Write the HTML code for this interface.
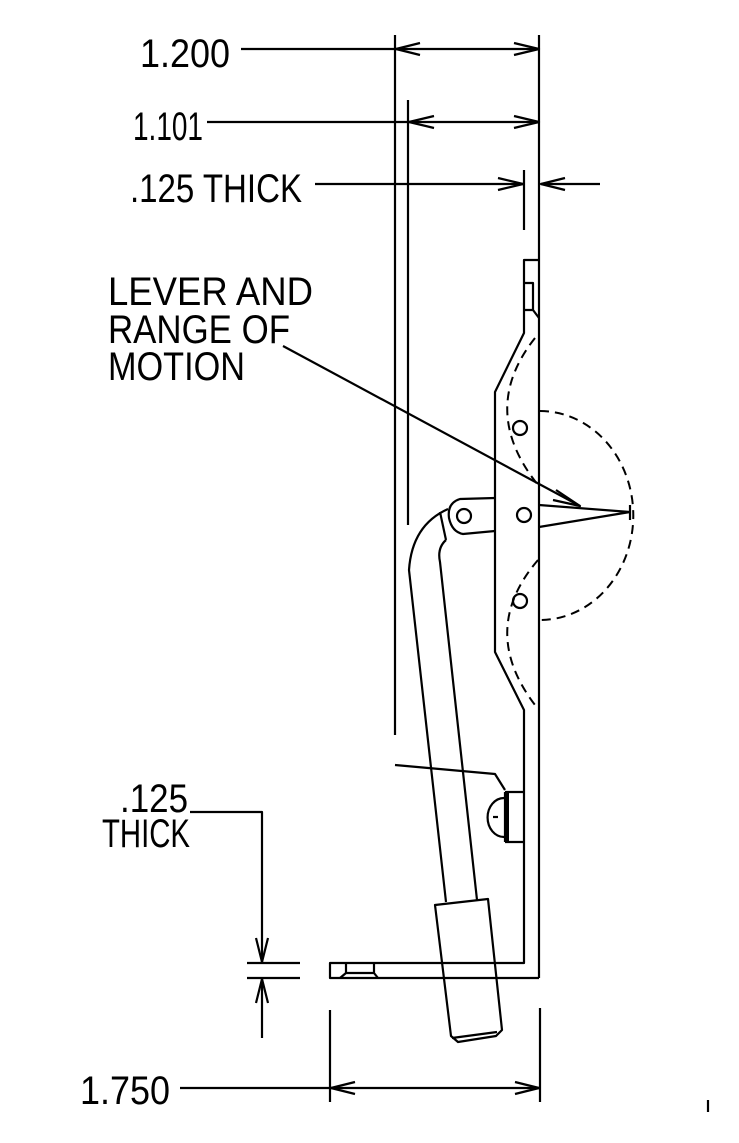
<!DOCTYPE html>
<html><head><style>html,body{margin:0;padding:0;background:#fff}svg{display:block}</style></head>
<body>
<svg width="739" height="1143" viewBox="0 0 739 1143" xmlns="http://www.w3.org/2000/svg">
<g font-family="Liberation Sans, sans-serif" font-size="40" fill="#000" stroke="none">
<text x="140" y="67" textLength="90" lengthAdjust="spacingAndGlyphs">1.200</text>
<text x="133" y="140" textLength="70" lengthAdjust="spacingAndGlyphs">1.101</text>
<text x="130" y="202" textLength="172" lengthAdjust="spacingAndGlyphs">.125 THICK</text>
<text x="108" y="305" textLength="205" lengthAdjust="spacingAndGlyphs">LEVER AND</text>
<text x="108" y="343" textLength="182" lengthAdjust="spacingAndGlyphs">RANGE OF</text>
<text x="108" y="380" textLength="137" lengthAdjust="spacingAndGlyphs">MOTION</text>
<text x="120" y="812" textLength="68" lengthAdjust="spacingAndGlyphs">.125</text>
<text x="102" y="847" textLength="88" lengthAdjust="spacingAndGlyphs">THICK</text>
<text x="80" y="1104" textLength="90" lengthAdjust="spacingAndGlyphs">1.750</text>
</g>
<g fill="none" stroke="#000" stroke-width="2.2" stroke-linejoin="round">
<line x1="241" y1="49" x2="539" y2="49"/>
<path d="M420,43 L396,49 L420,55 M514,43 L539,49 L514,55"/>
<line x1="395" y1="35" x2="395" y2="735"/>
<line x1="539" y1="35" x2="539" y2="978"/>
<line x1="207" y1="122" x2="539" y2="122"/>
<path d="M434,116 L409,122 L434,128 M514,116 L539,122 L514,128"/>
<line x1="408" y1="100" x2="408" y2="525"/>
<line x1="315" y1="184" x2="524" y2="184"/>
<path d="M498,178 L523,184 L498,190"/>
<line x1="524" y1="170" x2="524" y2="230"/>
<line x1="541" y1="184" x2="600" y2="184"/>
<path d="M565,178 L541,184 L565,190"/>
<path d="M539,978 L330,978 L330,963 L524,963 L524,710 L495,652 L495,392 L524,333 L524,260 L539,260"/>
<path d="M524,283 L533,283 L533,310 L524,310 M533,310 L539,318"/>
<path d="M346,963 L346,973 L374,973 L374,963 M340,978 L346,973 M374,973 L378,978"/>
<circle cx="520" cy="428" r="7"/>
<circle cx="524" cy="515" r="7"/>
<circle cx="520" cy="601" r="7"/>
<circle cx="464" cy="516" r="7"/>
<path d="M495,498 L460,499 Q447,503 449,518 Q452,532 463,534 L495,531"/>
<path d="M539,505 L630,512 L539,527"/>
<line x1="630" y1="505" x2="630" y2="520"/>
<line x1="283" y1="346" x2="580" y2="506"/>
<path d="M556,490 L580,506 L553,500"/>
<!-- handle -->
<path d="M448,509 Q412,525 409,570 L446,902"/>
<path d="M446,540 Q437,548 440,562 L477,900"/>
<line x1="440" y1="512" x2="446" y2="540"/>
<path d="M435,905 L488,899 L502,1030 L496,1036 L458,1042 L451,1036 Z"/>
<path d="M497,1032 L452,1038"/>
<!-- latch -->
<path d="M395,765 L495,774 L505,790"/>
<path d="M505,792 L524,792 M505,842 L524,842 M505,792 L505,842"/>
<line x1="507.5" y1="792" x2="507.5" y2="842" stroke-width="3"/>
<path d="M504,798 A16,19 0 0 0 504,837"/>
<line x1="493" y1="817" x2="498" y2="817"/>
<path d="M190,812 L262,812 L262,963"/>
<path d="M256,938 L262,962 L268,938"/>
<line x1="262" y1="979" x2="262" y2="1038"/>
<path d="M256,1003 L262,979 L268,1003"/>
<line x1="247" y1="963" x2="300" y2="963"/>
<line x1="247" y1="978" x2="300" y2="978"/>
<line x1="330" y1="1010" x2="330" y2="1102"/>
<line x1="540" y1="1008" x2="540" y2="1102"/>
<line x1="180" y1="1088" x2="540" y2="1088"/>
<path d="M355,1082 L331,1088 L355,1094 M515,1082 L539,1088 L515,1094"/>
<line x1="708" y1="1100" x2="708" y2="1112"/>
</g>
<g fill="none" stroke="#000" stroke-width="2" stroke-dasharray="9,6">
<path d="M540,411 A92,103 0 0 1 540,620"/>
<path d="M535,338 Q478,410 538,485"/>
<path d="M538,560 Q478,630 535,705"/>
</g>
</svg>
</body></html>
